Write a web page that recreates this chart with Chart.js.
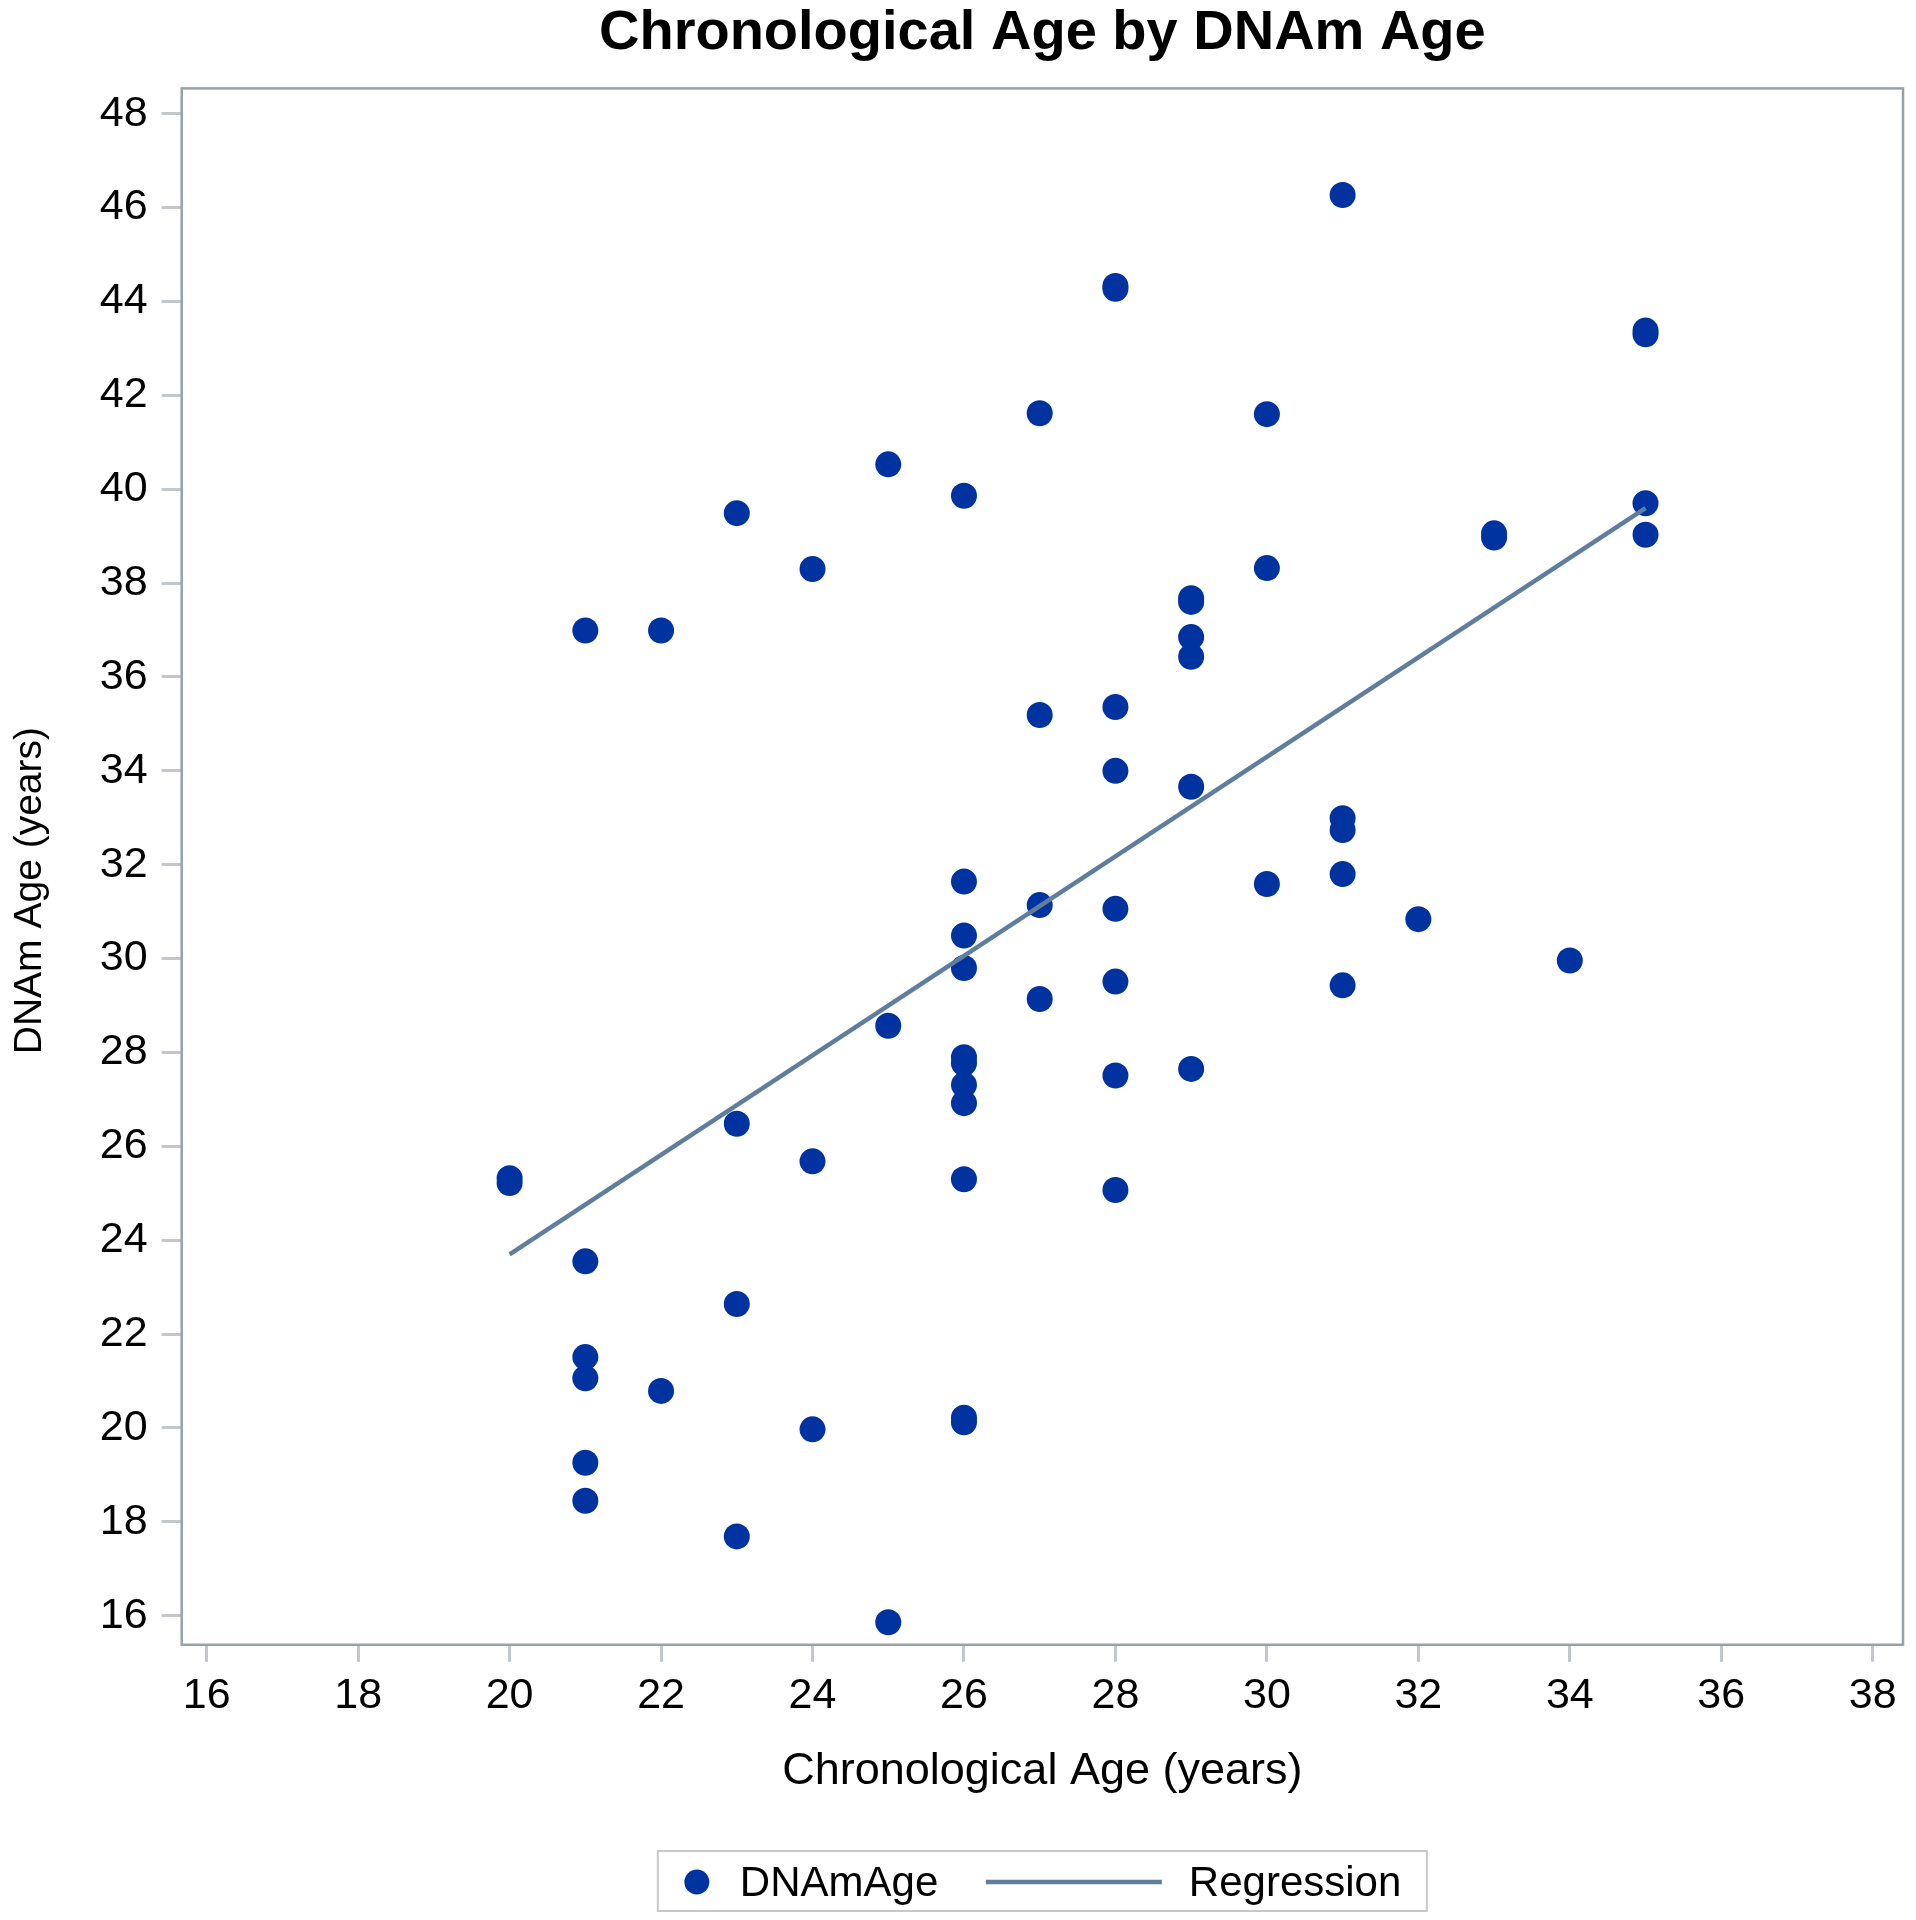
<!DOCTYPE html>
<html>
<head>
<meta charset="utf-8">
<script src="https://cdn.jsdelivr.net/npm/chart.js@4"></script>
<style>
  html, body { margin: 0; padding: 0; background: #ffffff; }
  #wrap { width: 1916px; height: 1920px; }
</style>
</head>
<body>
<div id="wrap"><canvas id="chart" width="1916" height="1920"></canvas></div>
<script>
// ---- text ----
const chartTitle = 'Chronological Age by DNAm Age';
const xAxisTitle = 'Chronological Age (years)';
const yAxisTitle = 'DNAm Age (years)';
const scatterLabel = 'DNAmAge';
const lineLabel = 'Regression';

// ---- data ----
const chronAge = [
  20, 20,
  21, 21, 21, 21, 21, 21,
  22, 22,
  23, 23, 23, 23,
  24, 24, 24,
  25, 25, 25,
  26, 26, 26, 26, 26, 26, 26, 26, 26, 26, 26,
  27, 27, 27, 27,
  28, 28, 28, 28, 28, 28, 28, 28,
  29, 29, 29, 29, 29, 29,
  30, 30, 30,
  31, 31, 31, 31, 31,
  32,
  33, 33,
  34,
  35, 35, 35, 35
];
const dnamAge = [
  25.32, 25.22,
  36.99, 23.55, 21.51, 21.06, 19.26, 18.45,
  36.99, 20.79,
  39.49, 26.48, 22.64, 17.69,
  38.30, 25.68, 19.97,
  40.53, 28.57, 15.86,
  39.86, 31.64, 30.49, 29.80, 27.90, 27.77, 27.31, 26.92, 25.30, 20.22, 20.12,
  41.62, 35.19, 31.14, 29.14,
  44.33, 44.27, 35.36, 34.00, 31.06, 29.51, 27.51, 25.07,
  37.68, 37.60, 36.85, 36.43, 33.66, 27.65,
  41.60, 38.32, 31.59,
  46.27, 32.99, 32.74, 31.80, 29.43,
  30.84,
  39.06, 38.97,
  29.96,
  43.38, 43.30, 39.70, 39.03
];
const regChron = [20, 35];
const regDnam = [23.70, 39.60];

// ---- axes ----
const xTicks = [16, 18, 20, 22, 24, 26, 28, 30, 32, 34, 36, 38];
const yTicks = [16, 18, 20, 22, 24, 26, 28, 30, 32, 34, 36, 38, 40, 42, 44, 46, 48];
const xRange = [15.67, 38.40];
const yRange = [15.38, 48.54];

// ---- style ----
const FONT = "'Liberation Sans', Arial, Helvetica, sans-serif";
const pointColor = '#0033a0';
const lineColor = '#5f7e9e';
const frameColor = '#98a1a7';
const tickColor = '#c2c7cb';
const textColor = '#000000';

const scatterData = chronAge.map((x, i) => ({ x: x, y: dnamAge[i] }));
const lineData = regChron.map((x, i) => ({ x: x, y: regDnam[i] }));

const decorPlugin = {
  id: 'decor',
  beforeDatasetsDraw(chart) {
    const { ctx, chartArea: a } = chart;
    ctx.save();
    ctx.strokeStyle = frameColor;
    ctx.lineWidth = 2.5;
    ctx.strokeRect(a.left, a.top, a.right - a.left, a.bottom - a.top);
    ctx.restore();
  },
  afterDraw(chart) {
    const { ctx, chartArea: a } = chart;
    const cx = (a.left + a.right) / 2;
    ctx.save();
    // chart title
    ctx.fillStyle = '#000000';
    ctx.font = 'bold 56px ' + FONT;
    ctx.textAlign = 'center';
    ctx.textBaseline = 'alphabetic';
    ctx.fillText(chartTitle, cx, a.top - 39);

    // y axis title
    ctx.save();
    ctx.translate(41, (a.top + a.bottom) / 2 + 24);
    ctx.rotate(-Math.PI / 2);
    ctx.font = '39px ' + FONT;
    ctx.fillStyle = textColor;
    ctx.textAlign = 'center';
    ctx.textBaseline = 'alphabetic';
    ctx.fillText(yAxisTitle, 0, 0);
    ctx.restore();

    // legend
    const lw = 769, lh = 60;
    const lx = cx - lw / 2;
    const ly = chart.height - 69;
    const my = ly + 31;
    ctx.strokeStyle = '#c8c8c8';
    ctx.lineWidth = 2;
    ctx.strokeRect(lx, ly, lw, lh);
    ctx.fillStyle = pointColor;
    ctx.beginPath();
    ctx.arc(lx + 39, my, 12.5, 0, Math.PI * 2);
    ctx.fill();
    ctx.strokeStyle = lineColor;
    ctx.lineWidth = 4.5;
    ctx.beginPath();
    ctx.moveTo(lx + 328, my);
    ctx.lineTo(lx + 504, my);
    ctx.stroke();
    ctx.fillStyle = textColor;
    ctx.font = '42px ' + FONT;
    ctx.textAlign = 'left';
    ctx.textBaseline = 'alphabetic';
    ctx.fillText(scatterLabel, lx + 82, my + 14);
    ctx.fillText(lineLabel, lx + 531, my + 14);
    ctx.restore();
  }
};

new Chart(document.getElementById('chart'), {
  type: 'scatter',
  data: {
    datasets: [
      {
        type: 'line',
        label: lineLabel,
        data: lineData,
        borderColor: lineColor,
        borderWidth: 4.5,
        pointRadius: 0,
        fill: false,
        tension: 0,
        order: 0
      },
      {
        type: 'scatter',
        label: scatterLabel,
        data: scatterData,
        backgroundColor: pointColor,
        borderWidth: 0,
        pointRadius: 13,
        pointHoverRadius: 13,
        order: 1
      }
    ]
  },
  options: {
    responsive: false,
    devicePixelRatio: 1,
    animation: false,
    layout: { padding: { top: 88.4, right: 8.2, bottom: 121, left: 0 } },
    plugins: {
      legend: { display: false },
      title: { display: false },
      tooltip: { enabled: false }
    },
    scales: {
      x: {
        type: 'linear',
        min: xRange[0],
        max: xRange[1],
        afterBuildTicks: (axis) => { axis.ticks = xTicks.map(v => ({ value: v })); },
        afterFit: (scale) => { scale.height = 154.2; },
        border: { display: false },
        grid: { display: true, drawOnChartArea: false, drawTicks: true, tickLength: 17, color: tickColor, lineWidth: 3 },
        ticks: { color: textColor, font: { family: FONT, size: 43 }, padding: 9, maxRotation: 0, autoSkip: false },
        title: { display: true, text: xAxisTitle, color: textColor, font: { family: FONT, size: 45 }, padding: 0 }
      },
      y: {
        type: 'linear',
        min: yRange[0],
        max: yRange[1],
        afterBuildTicks: (axis) => { axis.ticks = yTicks.map(v => ({ value: v })); },
        afterFit: (scale) => { scale.width = 181.7; },
        border: { display: false },
        grid: { display: true, drawOnChartArea: false, drawTicks: true, tickLength: 20, color: tickColor, lineWidth: 3 },
        ticks: { color: textColor, font: { family: FONT, size: 43 }, padding: 14, autoSkip: false }
      }
    }
  },
  plugins: [decorPlugin]
});
</script>
</body>
</html>
